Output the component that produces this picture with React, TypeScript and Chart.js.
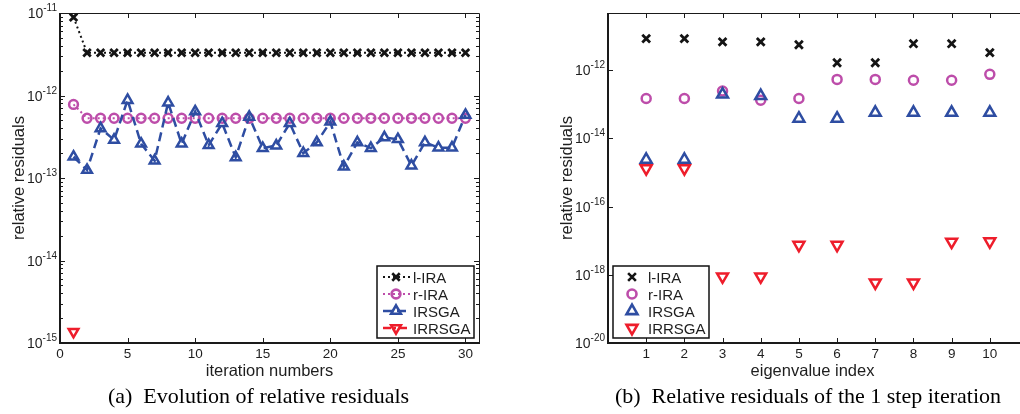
import React, { useEffect, useRef } from "react";
import { Chart, registerables } from "chart.js";
Chart.register(...registerables);

const SANS = "'Liberation Sans', Arial, Helvetica, sans-serif";
const SERIF = "'Liberation Serif', 'Times New Roman', Times, serif";

const BLACK = "#141414";
const MAGENTA = "#BD4DAA";
const BLUE = "#2E4DA2";
const RED = "#EE1D2B";
const TEXT = "#1e1e1e";

const seriesNames = ["l-IRA", "r-IRA", "IRSGA", "IRRSGA"];

// ---------- (a) Evolution of relative residuals ----------
const iterationNumbers = [1, 2, 3, 4, 5, 6, 7, 8, 9, 10, 11, 12, 13, 14, 15, 16, 17, 18, 19, 20, 21, 22, 23, 24, 25, 26, 27, 28, 29, 30];
const iterLIRA = [8.9e-12, 3.3e-12, 3.3e-12, 3.3e-12, 3.3e-12, 3.3e-12, 3.3e-12, 3.3e-12, 3.3e-12, 3.3e-12, 3.3e-12, 3.3e-12, 3.3e-12, 3.3e-12, 3.3e-12, 3.3e-12, 3.3e-12, 3.3e-12, 3.3e-12, 3.3e-12, 3.3e-12, 3.3e-12, 3.3e-12, 3.3e-12, 3.3e-12, 3.3e-12, 3.3e-12, 3.3e-12, 3.3e-12, 3.3e-12];
const iterRIRA = [7.8e-13, 5.3e-13, 5.3e-13, 5.3e-13, 5.3e-13, 5.3e-13, 5.3e-13, 5.3e-13, 5.3e-13, 5.3e-13, 5.3e-13, 5.3e-13, 5.3e-13, 5.3e-13, 5.3e-13, 5.3e-13, 5.3e-13, 5.3e-13, 5.3e-13, 5.3e-13, 5.3e-13, 5.3e-13, 5.3e-13, 5.3e-13, 5.3e-13, 5.3e-13, 5.3e-13, 5.3e-13, 5.3e-13, 5.3e-13];
const iterIRSGA = [1.81e-13, 1.25e-13, 4.0e-13, 2.9e-13, 8.8e-13, 2.6e-13, 1.62e-13, 8.2e-13, 2.6e-13, 6.4e-13, 2.5e-13, 4.6e-13, 1.78e-13, 5.5e-13, 2.3e-13, 2.47e-13, 4.6e-13, 2.0e-13, 2.7e-13, 4.8e-13, 1.37e-13, 2.7e-13, 2.3e-13, 3.1e-13, 2.95e-13, 1.41e-13, 2.7e-13, 2.33e-13, 2.33e-13, 5.8e-13];
const iterIRRSGAIter = [1];
const iterIRRSGA = [1.37e-15];
const iterXTicks = [0, 5, 10, 15, 20, 25, 30];
const iterYExponents = [-15, -14, -13, -12, -11];

// ---------- (b) Relative residuals of the 1 step iteration ----------
const eigenIndex = [1, 2, 3, 4, 5, 6, 7, 8, 9, 10];
const eigLIRA = [8.5e-12, 8.5e-12, 6.8e-12, 6.8e-12, 5.6e-12, 1.66e-12, 1.66e-12, 6.0e-12, 6.0e-12, 3.3e-12];
const eigRIRA = [1.48e-13, 1.48e-13, 2.45e-13, 1.32e-13, 1.48e-13, 5.4e-13, 5.4e-13, 5.1e-13, 5.1e-13, 7.6e-13];
const eigIRSGA = [2.4e-15, 2.4e-15, 1.95e-13, 1.77e-13, 3.85e-14, 3.85e-14, 5.7e-14, 5.7e-14, 5.7e-14, 5.7e-14];
const eigIRRSGA = [1.32e-15, 1.32e-15, 8.9e-19, 8.9e-19, 7.5e-18, 7.5e-18, 5.9e-19, 5.9e-19, 9.3e-18, 9.5e-18];
const eigXTicks = [1, 2, 3, 4, 5, 6, 7, 8, 9, 10];
const eigYExponents = [-20, -18, -16, -14, -12];

type Marker = "x" | "o" | "^" | "v";
const styles: { color: string; dash: number[]; marker: Marker; lw: number }[] = [
  { color: BLACK, dash: [2, 3], marker: "x", lw: 2 },
  { color: MAGENTA, dash: [2, 3], marker: "o", lw: 2 },
  { color: BLUE, dash: [9, 5], marker: "^", lw: 2.5 },
  { color: RED, dash: [8, 3, 2, 3], marker: "v", lw: 2.5 },
];

function pointShape(m: Marker) {
  if (m === "x") return { pointStyle: "crossRot", pointRotation: 0 };
  if (m === "o") return { pointStyle: "circle", pointRotation: 0 };
  if (m === "^") return { pointStyle: "triangle", pointRotation: 0 };
  return { pointStyle: "triangle", pointRotation: 180 };
}

function drawMarker(ctx: CanvasRenderingContext2D, m: Marker, x: number, y: number, r: number, color: string, lw: number) {
  ctx.save();
  ctx.setLineDash([]);
  ctx.strokeStyle = color;
  ctx.lineWidth = lw;
  ctx.beginPath();
  if (m === "x") {
    const d = r * 0.7071;
    ctx.moveTo(x - d, y - d);
    ctx.lineTo(x + d, y + d);
    ctx.moveTo(x + d, y - d);
    ctx.lineTo(x - d, y + d);
  } else if (m === "o") {
    ctx.arc(x, y, r, 0, Math.PI * 2);
  } else {
    const s = m === "^" ? 1 : -1;
    ctx.moveTo(x, y - s * r);
    ctx.lineTo(x + r * 0.866, y + s * r * 0.5);
    ctx.lineTo(x - r * 0.866, y + s * r * 0.5);
    ctx.closePath();
  }
  ctx.stroke();
  ctx.restore();
}

type LegendCfg = {
  box: [number, number, number, number];
  rows: number[];
  markerX: number;
  textX: number;
  lineFrom?: number;
  lineTo?: number;
  radii: number[];
};

type AxesCfg = {
  xTicks: number[];
  yExps: number[];
  minor: boolean;
  xTitle: string;
  xTitleX: number;
  yTitle: string;
  yTitleX: number;
  caption: string;
  captionX: number;
  legend: LegendCfg;
};

function axesPlugin(cfg: AxesCfg) {
  return {
    id: "matlabAxes",
    afterDatasetsDraw(chart: any) {
      const ctx: CanvasRenderingContext2D = chart.ctx;
      const xs = chart.scales.x;
      const ys = chart.scales.y;
      const a = chart.chartArea;
      ctx.save();
      ctx.setLineDash([]);
      ctx.strokeStyle = "#1a1a1a";
      // box
      ctx.lineWidth = 1;
      ctx.beginPath();
      ctx.moveTo(a.left, a.top + 0.5);
      ctx.lineTo(a.right + 0.5, a.top + 0.5);
      ctx.lineTo(a.right + 0.5, a.bottom);
      ctx.stroke();
      ctx.lineWidth = 2;
      ctx.beginPath();
      ctx.moveTo(a.left, a.top);
      ctx.lineTo(a.left, a.bottom);
      ctx.lineTo(a.right + 1, a.bottom);
      ctx.stroke();
      // x ticks
      ctx.lineWidth = 1;
      ctx.beginPath();
      for (const v of cfg.xTicks) {
        const px = Math.round(xs.getPixelForValue(v)) + 0.5;
        ctx.moveTo(px, a.bottom);
        ctx.lineTo(px, a.bottom - 5);
        ctx.moveTo(px, a.top);
        ctx.lineTo(px, a.top + 5);
      }
      // y major ticks
      for (const e of cfg.yExps) {
        const py = Math.round(ys.getPixelForValue(Math.pow(10, e))) + 0.5;
        ctx.moveTo(a.left, py);
        ctx.lineTo(a.left + 5, py);
        ctx.moveTo(a.right, py);
        ctx.lineTo(a.right - 5, py);
      }
      if (cfg.minor) {
        for (let k = 0; k < cfg.yExps.length - 1; k++) {
          const e = cfg.yExps[k];
          for (let m = 2; m <= 9; m++) {
            const py = Math.round(ys.getPixelForValue(m * Math.pow(10, e))) + 0.5;
            ctx.moveTo(a.left, py);
            ctx.lineTo(a.left + 3, py);
            ctx.moveTo(a.right, py);
            ctx.lineTo(a.right - 3, py);
          }
        }
      }
      ctx.stroke();

      // tick labels
      ctx.fillStyle = TEXT;
      ctx.textBaseline = "alphabetic";
      ctx.font = `13.5px ${SANS}`;
      ctx.textAlign = "center";
      for (const v of cfg.xTicks) {
        const px = xs.getPixelForValue(v);
        ctx.fillText(String(v), px, a.bottom + 14.5);
      }
      for (const e of cfg.yExps) {
        const py = ys.getPixelForValue(Math.pow(10, e));
        const expStr = String(e);
        ctx.font = `10px ${SANS}`;
        const wExp = ctx.measureText(expStr).width;
        ctx.font = `14px ${SANS}`;
        const w10 = ctx.measureText("10").width;
        const right = a.left - 3;
        ctx.textAlign = "left";
        ctx.fillText("10", right - wExp - w10, py + 5);
        ctx.font = `10px ${SANS}`;
        ctx.fillText(expStr, right - wExp, py - 2);
      }

      // axis titles
      ctx.font = `16.5px ${SANS}`;
      ctx.textAlign = "center";
      ctx.fillStyle = TEXT;
      ctx.fillText(cfg.xTitle, cfg.xTitleX, 376);
      ctx.save();
      ctx.translate(cfg.yTitleX, (a.top + a.bottom) / 2);
      ctx.rotate(-Math.PI / 2);
      ctx.fillText(cfg.yTitle, 0, 0);
      ctx.restore();

      // caption
      ctx.font = `22px ${SERIF}`;
      ctx.fillStyle = "#000";
      ctx.fillText(cfg.caption, cfg.captionX, 403);

      // legend
      const lg = cfg.legend;
      const [x0, y0, x1, y1] = lg.box;
      ctx.fillStyle = "#fff";
      ctx.fillRect(x0, y0, x1 - x0, y1 - y0);
      ctx.lineWidth = 1.5;
      ctx.strokeStyle = "#111";
      ctx.strokeRect(x0, y0, x1 - x0, y1 - y0);
      seriesNames.forEach((name, i) => {
        const st = styles[i];
        const y = lg.rows[i];
        if (lg.lineFrom !== undefined && lg.lineTo !== undefined) {
          ctx.save();
          ctx.beginPath();
          ctx.setLineDash(st.dash);
          ctx.strokeStyle = st.color;
          ctx.lineWidth = st.lw;
          ctx.moveTo(lg.lineFrom, y);
          ctx.lineTo(lg.lineTo, y);
          ctx.stroke();
          ctx.restore();
        }
        drawMarker(ctx, st.marker, lg.markerX, y, lg.radii[i], st.color, 2.6);
        ctx.fillStyle = TEXT;
        ctx.font = `15px ${SANS}`;
        ctx.textAlign = "left";
        ctx.textBaseline = "alphabetic";
        ctx.fillText(name, lg.textX, y + 5.5);
      });
      ctx.restore();
    },
  };
}

function buildDatasets(series: { xs: number[]; ys: number[] }[], radii: number[], showLine: boolean) {
  return series.map((s, i) => {
    const st = styles[i];
    return {
      label: seriesNames[i],
      data: s.xs.map((x, j) => ({ x, y: s.ys[j] })),
      showLine,
      borderColor: st.color,
      borderWidth: st.lw,
      borderDash: st.dash,
      backgroundColor: "rgba(0,0,0,0)",
      pointBackgroundColor: "rgba(0,0,0,0)",
      pointBorderColor: st.color,
      pointBorderWidth: st.marker === "x" ? 2.8 : 2.5,
      pointRadius: radii[i],
      pointHoverRadius: radii[i],
      ...pointShape(st.marker),
      order: 4 - i,
      tension: 0,
    };
  });
}

function leftConfig(): any {
  const datasets = buildDatasets(
    [
      { xs: iterationNumbers, ys: iterLIRA },
      { xs: iterationNumbers, ys: iterRIRA },
      { xs: iterationNumbers, ys: iterIRSGA },
      { xs: iterIRRSGAIter, ys: iterIRRSGA },
    ],
    [5.3, 4.4, 5.6, 5.6],
    true
  );
  return {
    type: "scatter",
    data: { datasets },
    options: {
      animation: false,
      responsive: false,
      devicePixelRatio: 1,
      events: [],
      layout: { padding: { left: 60, top: 13, right: 31, bottom: 71 } },
      plugins: { legend: { display: false }, tooltip: { enabled: false } },
      scales: {
        x: { type: "linear", min: 0, max: 31, display: false },
        y: { type: "logarithmic", min: 1e-15, max: 1e-11, display: false },
      },
    },
    plugins: [
      axesPlugin({
        xTicks: iterXTicks,
        yExps: iterYExponents,
        minor: true,
        xTitle: "iteration numbers",
        xTitleX: 269.5,
        yTitle: "relative residuals",
        yTitleX: 23.5,
        caption: "(a)  Evolution of relative residuals",
        captionX: 258.5,
        legend: {
          box: [377, 266, 474, 338],
          rows: [277, 294, 311, 328],
          markerX: 396,
          textX: 413,
          lineFrom: 383,
          lineTo: 410,
          radii: [5.3, 4.4, 5.6, 5.6],
        },
      }),
    ],
  };
}

function rightConfig(): any {
  const datasets = buildDatasets(
    [
      { xs: eigenIndex, ys: eigLIRA },
      { xs: eigenIndex, ys: eigRIRA },
      { xs: eigenIndex, ys: eigIRSGA },
      { xs: eigenIndex, ys: eigIRRSGA },
    ],
    [5.5, 4.5, 6.3, 6.3],
    false
  );
  return {
    type: "scatter",
    data: { datasets },
    options: {
      animation: false,
      responsive: false,
      devicePixelRatio: 1,
      events: [],
      layout: { padding: { left: 88, top: 13, right: 12, bottom: 71 } },
      plugins: { legend: { display: false }, tooltip: { enabled: false } },
      scales: {
        x: { type: "linear", min: 0, max: 11, display: false },
        y: { type: "logarithmic", min: 1e-20, max: 4.78e-11, display: false },
      },
    },
    plugins: [
      axesPlugin({
        xTicks: eigXTicks,
        yExps: eigYExponents,
        minor: false,
        xTitle: "eigenvalue index",
        xTitleX: 292.5,
        yTitle: "relative residuals",
        yTitleX: 52,
        caption: "(b)  Relative residuals of the 1 step iteration",
        captionX: 288,
        legend: {
          box: [93, 266, 189, 338],
          rows: [277, 294, 311, 328],
          markerX: 112,
          textX: 128,
          radii: [5.5, 4.5, 6.3, 6.3],
        },
      }),
    ],
  };
}

export default function App() {
  const leftRef = useRef<HTMLCanvasElement>(null);
  const rightRef = useRef<HTMLCanvasElement>(null);
  useEffect(() => {
    const c1 = new Chart(leftRef.current as HTMLCanvasElement, leftConfig());
    const c2 = new Chart(rightRef.current as HTMLCanvasElement, rightConfig());
    return () => {
      c1.destroy();
      c2.destroy();
    };
  }, []);
  return (
    <div style={{ position: "fixed", left: 0, top: 0, width: 1020, height: 414, overflow: "hidden", background: "#fff" }}>
      <canvas ref={leftRef} width={510} height={414} style={{ position: "absolute", left: 0, top: 0, width: 510, height: 414 }} />
      <canvas ref={rightRef} width={520} height={414} style={{ position: "absolute", left: 520, top: 0, width: 520, height: 414 }} />
    </div>
  );
}
